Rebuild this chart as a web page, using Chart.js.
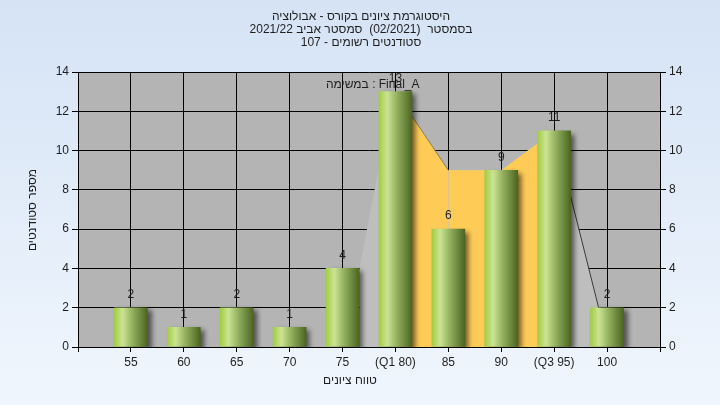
<!DOCTYPE html>
<html>
<head>
<meta charset="utf-8">
<script src="https://cdn.jsdelivr.net/npm/chart.js@4/dist/chart.umd.min.js"></script>
<style>
  html, body { margin: 0; padding: 0; background: #fff; }
  canvas { display: block; }
</style>
</head>
<body>
<canvas id="chart" width="720" height="405"></canvas>
<script>
// data
const gradeValues = [55, 60, 65, 70, 75, 80, 85, 90, 95, 100];
const tickLabels = ['55', '60', '65', '70', '75', '(Q1 80)', '85', '90', '(Q3 95)', '100'];
const studentCounts = [2, 1, 2, 1, 4, 13, 6, 9, 11, 2];
// frequency outline behind the bars (grey), and the Q1..Q3 part of it (orange)
const curveX = [76.6, 79.8, 85, 90, 95, 99.2];
const curveY = [4, 13, 9, 9, 11, 2];
const iqrX = [80, 85, 90, 95];
const iqrY = [13, 9, 9, 11];

const titleLines = [
  'היסטוגרמת ציונים בקורס - אבולוציה',
  'בסמסטר  (02/2021)  סמסטר אביב 2021/22',
  'סטודנטים רשומים - 107'
];
const yTitle = 'מספר סטודנטים';
const xTitle = 'טווח ציונים';
const taskNote = 'במשימה : Final_A';

const FONT = "'Liberation Sans', Arial, 'DejaVu Sans', sans-serif";
const TEXT = '#1e1e1e';
const BAR_W = 33;

function barGradient(c) {
  const chart = c.chart;
  if (!chart.chartArea || c.type !== 'data') return '#9ab868';
  const x = chart.scales.x.getPixelForValue(gradeValues[c.dataIndex]);
  const g = chart.ctx.createLinearGradient(x - BAR_W / 2, 0, x + BAR_W / 2, 0);
  g.addColorStop(0, '#a2cd42');
  g.addColorStop(0.25, '#cbe493');
  g.addColorStop(0.55, '#92b05e');
  g.addColorStop(1, '#4b6521');
  return g;
}

const backdrop = {
  id: 'backdrop',
  beforeDraw(chart) {
    const { ctx, width, height, chartArea: a } = chart;
    ctx.save();
    const g = ctx.createLinearGradient(0, 0, 0, height);
    g.addColorStop(0, '#d5e3f5');
    g.addColorStop(1, '#f0f6fd');
    ctx.fillStyle = g;
    ctx.fillRect(0, 0, width, height);
    ctx.fillStyle = '#b4b4b4';
    ctx.fillRect(a.left, a.top, a.right - a.left, a.bottom - a.top);
    ctx.restore();
  }
};

// soft drop shadow under the bars only
const barShadow = {
  id: 'barShadow',
  beforeDatasetDraw(chart, args) {
    if (args.meta.type !== 'bar') return;
    const ctx = chart.ctx;
    ctx.save();
    ctx.shadowColor = 'rgba(0,0,0,0.55)';
    ctx.shadowBlur = 5;
    ctx.shadowOffsetX = 4;
    ctx.shadowOffsetY = 3;
  },
  afterDatasetDraw(chart, args) {
    if (args.meta.type !== 'bar') return;
    chart.ctx.restore();
  }
};

const texts = {
  id: 'texts',
  afterDraw(chart) {
    const ctx = chart.ctx;
    ctx.save();
    ctx.fillStyle = TEXT;
    ctx.font = '12px ' + FONT;
    ctx.textAlign = 'center';
    ctx.textBaseline = 'middle';

    // title block
    ctx.direction = 'rtl';
    titleLines.forEach((t, i) => ctx.fillText(t, 361, 17 + i * 13));

    // axis titles
    ctx.fillText(xTitle, 350, 381);
    ctx.save();
    ctx.translate(33, 210);
    ctx.rotate(-Math.PI / 2);
    ctx.fillText(yTitle, 0, 0);
    ctx.restore();

    // note inside the plot
    ctx.direction = 'ltr';
    ctx.textAlign = 'left';
    ctx.fillText(taskNote, 326, 85);

    // counts above bars
    ctx.textAlign = 'center';
    const meta = chart.getDatasetMeta(0);
    meta.data.forEach((bar, i) => {
      ctx.fillText(String(studentCounts[i]), bar.x, bar.y - 13);
    });
    ctx.restore();
  }
};

const tickFont = { family: FONT, size: 12 };

new Chart(document.getElementById('chart'), {
  type: 'bar',
  data: {
    datasets: [
      {
        type: 'bar',
        data: gradeValues.map((g, i) => ({ x: g, y: studentCounts[i] })),
        backgroundColor: barGradient,
        borderWidth: 0,
        barThickness: BAR_W,
        order: 0
      },
      {
        type: 'line',
        data: iqrX.map((x, i) => ({ x, y: iqrY[i] })),
        backgroundColor: '#ffcb57',
        borderWidth: 1,
        borderColor: 'transparent',
        segment: { borderColor: s => s.p0DataIndex === 0 ? 'rgba(110,95,60,0.7)' : 'transparent' },
        fill: 'origin',
        tension: 0,
        pointRadius: 0,
        order: 1
      },
      {
        type: 'line',
        data: curveX.map((x, i) => ({ x, y: curveY[i] })),
        backgroundColor: '#bebebe',
        borderWidth: 1,
        borderColor: 'transparent',
        segment: { borderColor: s => s.p0DataIndex === 4 ? '#3a3a3a' : 'transparent' },
        fill: 'origin',
        tension: 0,
        pointRadius: 0,
        order: 2
      }
    ]
  },
  options: {
    responsive: false,
    animation: false,
    events: [],
    layout: { padding: { top: 72, left: 0, right: 0, bottom: 0 } },
    plugins: { legend: { display: false }, tooltip: { enabled: false } },
    scales: {
      x: {
        type: 'linear',
        min: 50,
        max: 105,
        offset: false,
        afterFit: s => { s.height = 58; },
        grid: { color: '#000', lineWidth: 1, tickLength: 5, offset: false },
        border: { color: '#000' },
        ticks: {
          stepSize: 5,
          autoSkip: false,
          maxRotation: 0,
          padding: 3,
          color: TEXT,
          font: tickFont,
          callback: v => {
            const i = gradeValues.indexOf(v);
            return i >= 0 ? tickLabels[i] : '';
          }
        }
      },
      y: {
        position: 'left',
        min: 0,
        max: 14,
        afterFit: s => { s.width = 78; },
        grid: { color: '#000', lineWidth: 1, tickLength: 6 },
        border: { color: '#000' },
        ticks: { stepSize: 2, padding: 3, color: TEXT, font: tickFont }
      },
      y2: {
        position: 'right',
        min: 0,
        max: 14,
        afterFit: s => { s.width = 60; },
        grid: { color: '#000', lineWidth: 1, tickLength: 6, drawOnChartArea: false },
        border: { color: '#000' },
        ticks: { stepSize: 2, padding: 3, color: TEXT, font: tickFont }
      }
    }
  },
  plugins: [backdrop, barShadow, texts]
});
</script>
</body>
</html>
